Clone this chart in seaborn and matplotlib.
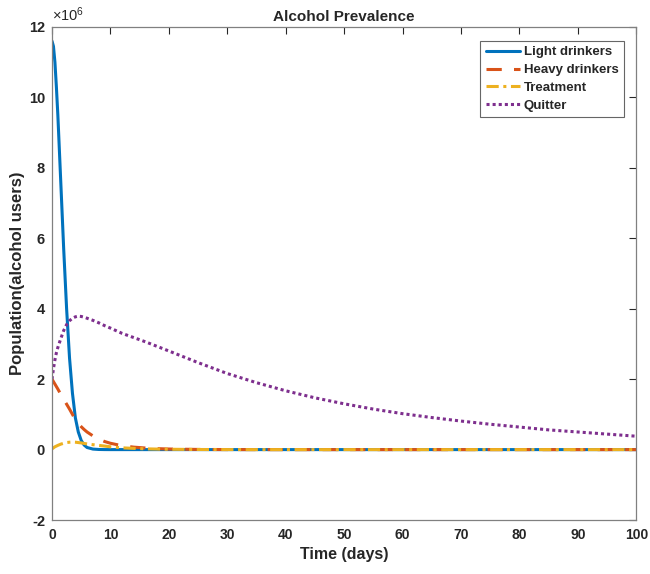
import numpy as np
import pandas as pd
import matplotlib
matplotlib.use("Agg")
import matplotlib.pyplot as plt
import seaborn as sns
from matplotlib.ticker import FuncFormatter

# ---- data (values in millions of persons) ----
time_days = [0, 0.25, 0.5, 0.75, 1, 1.5, 2, 2.5, 3, 3.5, 4, 4.5, 5, 5.5, 6, 7, 8, 9, 10,
             12, 14, 16, 18, 20, 25, 30, 35, 40, 45, 50, 55, 60, 65, 70, 75, 80, 85, 90, 95, 100]

light_drinkers = [11.6, 11.45, 11.0, 10.3, 9.5, 7.6, 5.7, 4.0, 2.6, 1.6, 0.9, 0.5, 0.26, 0.13,
                  0.06, 0.015, 0.004, 0.001, 0,
                  0, 0, 0, 0, 0, 0, 0, 0, 0, 0, 0, 0, 0, 0, 0, 0, 0, 0, 0, 0, 0]

heavy_drinkers = [2.0, 1.93, 1.86, 1.79, 1.72, 1.57, 1.43, 1.29, 1.15, 1.0, 0.85, 0.74, 0.65,
                  0.57, 0.5, 0.39, 0.3, 0.23, 0.18,
                  0.11, 0.07, 0.045, 0.028, 0.017, 0.005, 0.001, 0, 0, 0, 0, 0, 0, 0, 0, 0,
                  0, 0, 0, 0, 0]

treatment = [0.02, 0.05, 0.08, 0.10, 0.12, 0.155, 0.18, 0.20, 0.21, 0.215, 0.21, 0.20, 0.19,
             0.175, 0.16, 0.14, 0.12, 0.10, 0.08,
             0.05, 0.035, 0.022, 0.015, 0.01, 0.003, 0.001, 0, 0, 0, 0, 0, 0, 0, 0, 0,
             0, 0, 0, 0, 0]

quitter = [2.0, 2.3, 2.55, 2.75, 2.9, 3.15, 3.38, 3.55, 3.66, 3.73, 3.77, 3.79, 3.78, 3.76,
           3.73, 3.67, 3.6, 3.52, 3.45,
           3.3, 3.18, 3.06, 2.93, 2.8, 2.47, 2.16, 1.9, 1.67, 1.47, 1.3, 1.15, 1.02, 0.91,
           0.81, 0.72, 0.64, 0.56, 0.5, 0.44, 0.38]

series_names = ["Light drinkers", "Heavy drinkers", "Treatment", "Quitter"]
series_values = [light_drinkers, heavy_drinkers, treatment, quitter]
x_ticks = list(range(0, 101, 10))
y_ticks_millions = list(range(-2, 13, 2))
SCALE = 1e6

# ---- style ----
sns.set_theme(style="white")
plt.rcParams["font.family"] = ["Liberation Sans", "DejaVu Sans"]
plt.rcParams["font.weight"] = "bold"
plt.rcParams["mathtext.default"] = "regular"

colors = ["#0072BD", "#D95319", "#EDB120", "#7E2F8E"]
styles = ["-", (0, (5, 4)), (0, (4, 1.5, 1, 1.5)), (0, (1, 1))]

fig = plt.figure(figsize=(6.5, 5.74), dpi=100)
ax = fig.add_axes([0.08, 0.094, 0.899, 0.859])

for name, vals, c, ls in zip(series_names, series_values, colors, styles):
    df = pd.DataFrame({"t": time_days, "v": np.array(vals) * SCALE})
    sns.lineplot(data=df, x="t", y="v", ax=ax, color=c, linestyle=ls, linewidth=2.2,
                 label=name, estimator=None, sort=True)

ax.set_xlim(0, 100)
ax.set_ylim(-2 * SCALE, 12 * SCALE)
ax.set_xticks(x_ticks)
ax.set_yticks([v * SCALE for v in y_ticks_millions])
ax.yaxis.set_major_formatter(FuncFormatter(lambda v, p: f"{v / SCALE:g}"))
ax.text(0.0, 1.006, r"$\times$10$^{6}$", transform=ax.transAxes, ha="left", va="bottom",
        fontsize=10.5, fontweight="normal", color="#262626")

ax.tick_params(direction="in", length=5, width=0.8, colors="#262626",
               labelsize=10.5, top=True, right=True)
ax.tick_params(axis="x", pad=6, labelsize=10)
ax.tick_params(axis="y", pad=5)
for lab in ax.get_xticklabels() + ax.get_yticklabels():
    lab.set_fontweight("bold")
for sp in ax.spines.values():
    sp.set_visible(True)
    sp.set_color("#808080")
    sp.set_linewidth(0.9)

ax.set_xlabel("Time (days)", fontsize=11.5, fontweight="bold", labelpad=3)
ax.set_ylabel("Population(alcohol users)", fontsize=12, fontweight="bold", labelpad=3)
ax.set_title("Alcohol Prevalence", fontsize=11, fontweight="bold", pad=4)

leg = ax.legend(loc="upper right", bbox_to_anchor=(0.99, 0.985), fancybox=False,
                frameon=True, edgecolor="#404040", handlelength=2.6,
                handletextpad=0.3, labelspacing=0.42, borderpad=0.4,
                prop={"weight": "bold", "size": 9.5})
leg.get_frame().set_linewidth(0.8)

fig.savefig("out.png", dpi=100, facecolor="white")
